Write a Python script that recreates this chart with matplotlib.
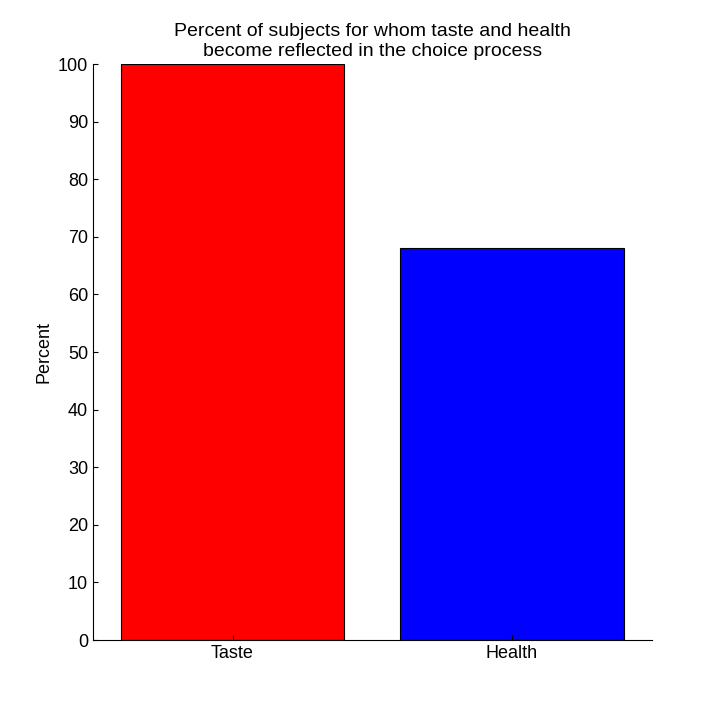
import matplotlib
matplotlib.use("Agg")
import matplotlib.pyplot as plt

categories = ["Taste", "Health"]
percent_values = [100, 68]
bar_colors = ["#ff0000", "#0000ff"]

plt.rcParams["font.family"] = "Liberation Sans"

fig = plt.figure(figsize=(7.2, 7.2), dpi=100)
ax = fig.add_axes([0.129, 0.111, 0.776, 0.8])

positions = list(range(1, len(categories) + 1))
ax.bar(positions, percent_values, width=0.8, color=bar_colors,
       edgecolor="black", linewidth=0.8)

ax.set_xlim(0.5, 2.5)
ax.set_ylim(0, 100)
ax.set_yticks(range(0, 101, 10))
ax.set_xticks(positions)
ax.set_xticklabels(categories)
ax.tick_params(direction="in", labelsize=13, top=False, right=False)
ax.spines["top"].set_visible(False)
ax.spines["right"].set_visible(False)

ax.set_ylabel("Percent", fontsize=13)
ax.set_title("Percent of subjects for whom taste and health\n"
             "become reflected in the choice process", fontsize=14)

fig.savefig("out.png", dpi=100)
